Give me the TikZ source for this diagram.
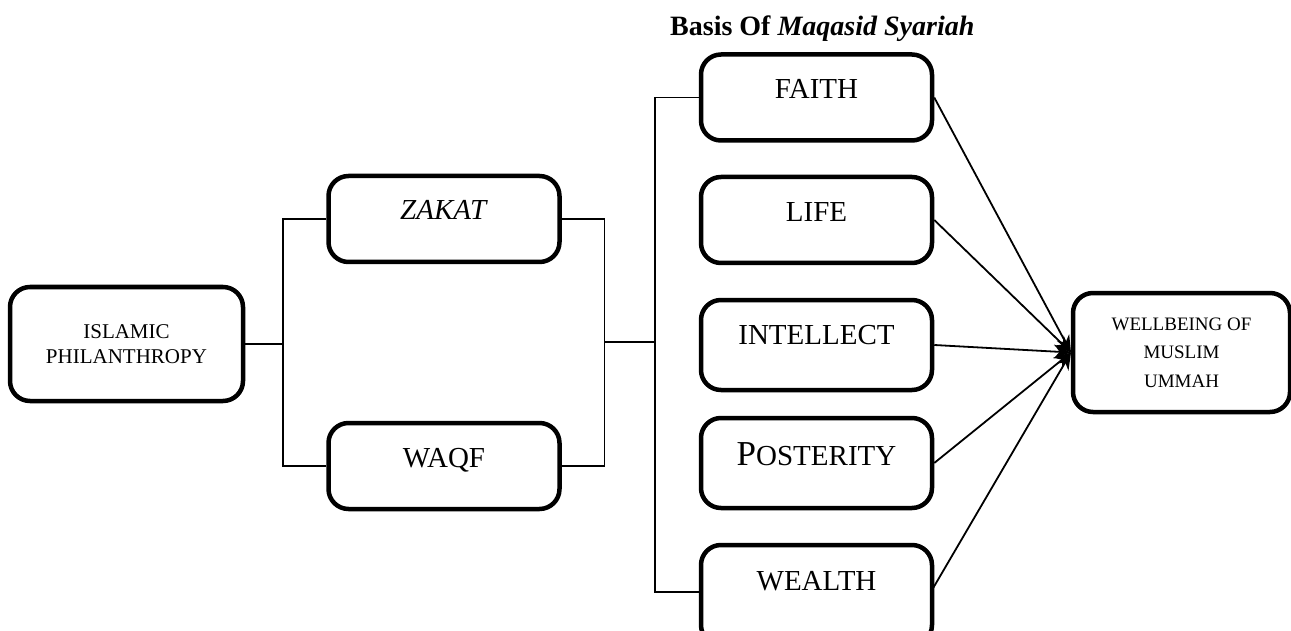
\documentclass[tikz,border=0pt]{standalone}
\usepackage{fontspec}
\setmainfont{Liberation Serif}
\usetikzlibrary{arrows.meta}
\begin{document}
\begin{tikzpicture}[x=1pt,y=-1pt,
  box/.style={draw=black,line width=4.5pt,rounded corners=20pt,fill=white,
    inner sep=0pt,minimum width=231pt,minimum height=86pt},
  boxtext/.style={anchor=base,inner sep=0pt,font=\fontsize{29}{34}\selectfont},
  link/.style={draw=black,line width=1.8pt},
  ray/.style={draw=black,line width=1.8pt,-{Stealth[length=17pt,width=14pt]}}]
\useasboundingbox (0,0) rectangle (1291,631);

% title
\node[anchor=base west,inner sep=0pt,font=\fontsize{28}{32}\selectfont\bfseries] (title)
  at (670,36) {Basis Of \textit{Maqasid Syariah}};

% source and channels
\node[box,minimum width=233pt,minimum height=114pt,align=center,
  font=\fontsize{21}{25}\selectfont] (ip) at (126.5,344) {ISLAMIC\\PHILANTHROPY};
\node[box] (zakat) at (444,219) {};
\node[box] (waqf) at (444,466) {};
\node[boxtext] (zakatt) at (444,220) {\textit{ZAKAT}};
\node[boxtext] (waqft) at (444,467) {WAQF};

% the five objectives
\node[box] (faith) at (816.5,97.5) {};
\node[box] (life) at (816.5,220) {};
\node[box,minimum height=90pt] (intel) at (816.5,345) {};
\node[box,minimum height=90pt] (post) at (816.5,463) {};
\node[box,minimum height=100pt] (wealth) at (816.5,595) {};
\node[boxtext] (faitht) at (816.5,99) {FAITH};
\node[boxtext] (lifet) at (816.5,222) {LIFE};
\node[boxtext] (intelt) at (816.5,344) {INTELLECT};
\node[boxtext] (postt) at (816.5,465) {{\fontsize{35}{34}\selectfont P}OSTERITY};
\node[boxtext] (wealtht) at (816.5,590) {WEALTH};

% outcome
\node[box,minimum width=217pt,minimum height=119pt,align=center,
  font=\fontsize{19}{28.5}\selectfont] (well) at (1181.5,352.5) {WELLBEING OF\\MUSLIM\\UMMAH};

% junction points
\coordinate (j1) at (283,344);
\coordinate (j2) at (604.5,342);
\coordinate (j3) at (655,342);
\coordinate (wl) at (700,592);

\draw[link] (ip.east) -- (j1);
\draw[link] (zakat.west) -| (j1) |- (waqf.west);
\draw[link] (zakat.east) -| (j2) |- (waqf.east);
\draw[link] (j2) -- (j3);
\draw[link] (faith.west) -| (j3) |- (wl);

% converging rays
\coordinate (hub) at (1071,352.5);
\coordinate (we) at (932,590);
\draw[ray] (faith.east) -- (hub);
\draw[ray] (life.east) -- (hub);
\draw[ray] (intel.east) -- (hub);
\draw[ray] (post.east) -- (hub);
\draw[ray] (we) -- (hub);
\end{tikzpicture}
\end{document}
